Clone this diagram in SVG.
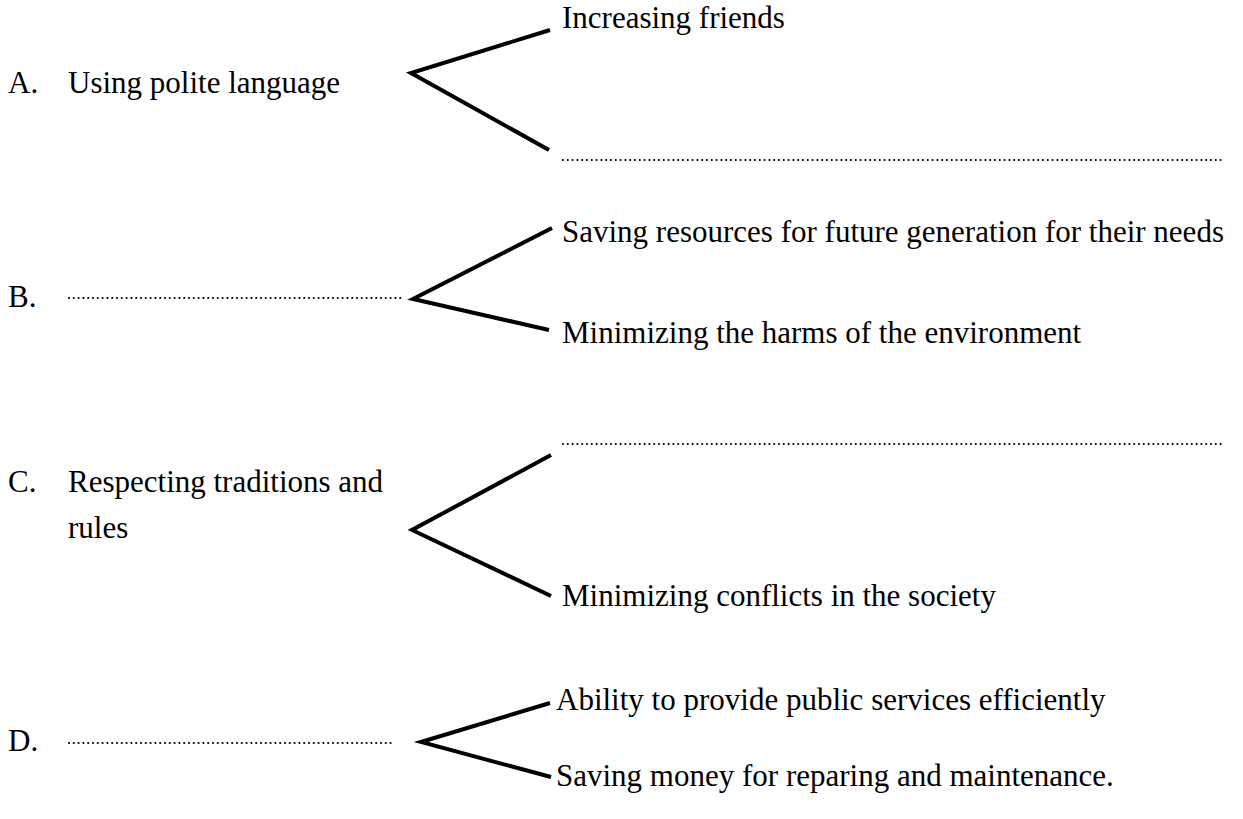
<svg xmlns="http://www.w3.org/2000/svg" width="1243" height="819" viewBox="0 0 1243 819">
<style>
text{font-family:"Liberation Serif","Times New Roman",serif;font-size:31px;fill:#000}
.br{fill:none;stroke:#000;stroke-width:4;stroke-linejoin:miter}
.dot{stroke:#000;stroke-width:2.2;stroke-dasharray:0 4.8;stroke-linecap:round}
</style>
<rect width="1243" height="819" fill="#fff"/>
<g id="nodeA">
<text x="8" y="93">A.</text>
<text x="68" y="93">Using polite language</text>
</g>
<g id="nodeA1"><text x="562" y="28">Increasing friends</text></g>
<g id="nodeA2"><line class="dot" x1="563" y1="160" x2="1224" y2="160"/></g>
<g id="nodeB">
<text x="8" y="307">B.</text>
<line class="dot" x1="69" y1="298" x2="403" y2="298"/>
</g>
<g id="nodeB1"><text x="562" y="242">Saving resources for future generation for their needs</text></g>
<g id="nodeB2"><text x="562" y="343">Minimizing the harms of the environment</text></g>
<g id="nodeC">
<text x="8" y="492">C.</text>
<text x="68" y="492">Respecting traditions and</text>
<text x="68" y="538">rules</text>
</g>
<g id="nodeC1"><line class="dot" x1="563" y1="444" x2="1224" y2="444"/></g>
<g id="nodeC2"><text x="562" y="606">Minimizing conflicts in the society</text></g>
<g id="nodeD">
<text x="8" y="751">D.</text>
<line class="dot" x1="69" y1="743" x2="392" y2="743"/>
</g>
<g id="nodeD1"><text x="556" y="710">Ability to provide public services efficiently</text></g>
<g id="nodeD2"><text x="556" y="786">Saving money for reparing and maintenance.</text></g>
<g id="connectors">
<polyline class="br" points="550,30 411,73 549,150"/>
<polyline class="br" points="552,228 413,299 549,330"/>
<polyline class="br" points="551,455 412,530 551,596"/>
<polyline class="br" points="550,703 421,742 551,777"/>
</g>
</svg>
